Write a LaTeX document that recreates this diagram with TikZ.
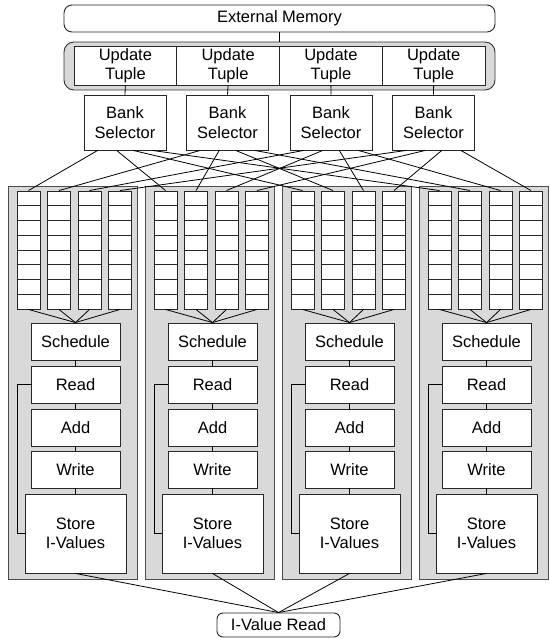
\documentclass[tikz,border=0pt]{standalone}
\usepackage{fontspec}
\setmainfont{Liberation Sans}
\usetikzlibrary{calc}
\begin{document}
\begin{tikzpicture}[x=1pt,y=-1pt,
  txt/.style={font=\fontsize{16.5}{19.5}\selectfont, align=center, text=black},
  box/.style={txt, draw=black!85, fill=white, line width=0.9pt, inner sep=0pt},
  rbox/.style={box, rounded corners=8pt},
  bankbg/.style={draw=black!70, fill=gray!30, line width=0.9pt},
  qcol/.style={draw=black!85, fill=white, line width=0.9pt, inner sep=0pt,
               minimum width=23pt, minimum height=118pt},
  wire/.style={draw=black, line width=0.8pt}]
\useasboundingbox (0,0) rectangle (549,639);

% external memory and the update tuple buffer
\node[rbox, minimum width=431pt, minimum height=27pt] (ext) at (279.5,18.5) {External Memory};
\draw[bankbg, draw=black!80, rounded corners=10pt] (64,42) rectangle (495,90);
\coordinate (buftop) at (279.5,42);
\foreach \j in {0,...,3}{
  \node[box, minimum width=102.75pt, minimum height=39pt] (ut\j)
    at ({74+102.75*(\j+0.5)},65.5) {Update\\Tuple};
}
\draw[wire] (ext.south) -- (buftop);

% bank selectors
\foreach \j/\cx in {0/125,1/227.5,2/331,3/433.5}{
  \node[box, minimum width=82pt, minimum height=55pt] (bs\j) at (\cx,122.5) {Bank\\Selector};
  \draw[wire] (ut\j.south) -- (bs\j.north);
}

% I-value read port
\node[rbox, rounded corners=6pt, minimum width=123pt, minimum height=24pt] (ivr) at (278.5,625) {I-Value Read};

% the four banks
\foreach \i in {0,...,3}{
  \pgfmathsetmacro{\L}{8+137*\i}
  \draw[bankbg] (\L,186) rectangle ({\L+129.5},579);
  % queues
  \foreach \j in {0,...,3}{
    \node[qcol] (q\i\j) at ({\L+9+30.5*\j+11.5},250) {};
    \foreach \r in {1,...,7}{
      \draw[draw=black!85, line width=0.9pt]
        ($(q\i\j.north west)!\r/8!(q\i\j.south west)$) --
        ($(q\i\j.north east)!\r/8!(q\i\j.south east)$);
    }
  }
  % pipeline stages
  \node[box, minimum width=89pt, minimum height=37pt] (sch\i) at ({\L+67.5},341.5) {Schedule};
  \node[box, minimum width=89pt, minimum height=37pt] (rd\i)  at ({\L+67.5},384.5) {Read};
  \node[box, minimum width=89pt, minimum height=37pt] (add\i) at ({\L+67.5},427.5) {Add};
  \node[box, minimum width=89pt, minimum height=37pt] (wr\i)  at ({\L+67.5},469.5) {Write};
  \node[box, minimum width=101pt, minimum height=79pt] (st\i) at ({\L+67.5},533.5) {Store\\I-Values};
  \foreach \j in {0,...,3}{
    \draw[wire] (q\i\j.south) -- (sch\i.north);
  }
  \draw[wire] (sch\i.south) -- (rd\i.north);
  \draw[wire] (rd\i.south) -- (add\i.north);
  \draw[wire] (add\i.south) -- (wr\i.north);
  \draw[wire] (wr\i.south) -- (st\i.north);
  \draw[wire] (rd\i.west) -- ++(-13,0) |- (st\i.west);
  \draw[wire] (st\i.south) -- (ivr.north);
}

% bank selector j feeds queue j of every bank
\foreach \j in {0,...,3}{
  \foreach \i/\f in {0/0.17,1/0.4,2/0.6,3/0.83}{
    \draw[wire] ($(bs\j.south west)!\f!(bs\j.south east)$) -- (q\i\j.north);
  }
}
\end{tikzpicture}
\end{document}
